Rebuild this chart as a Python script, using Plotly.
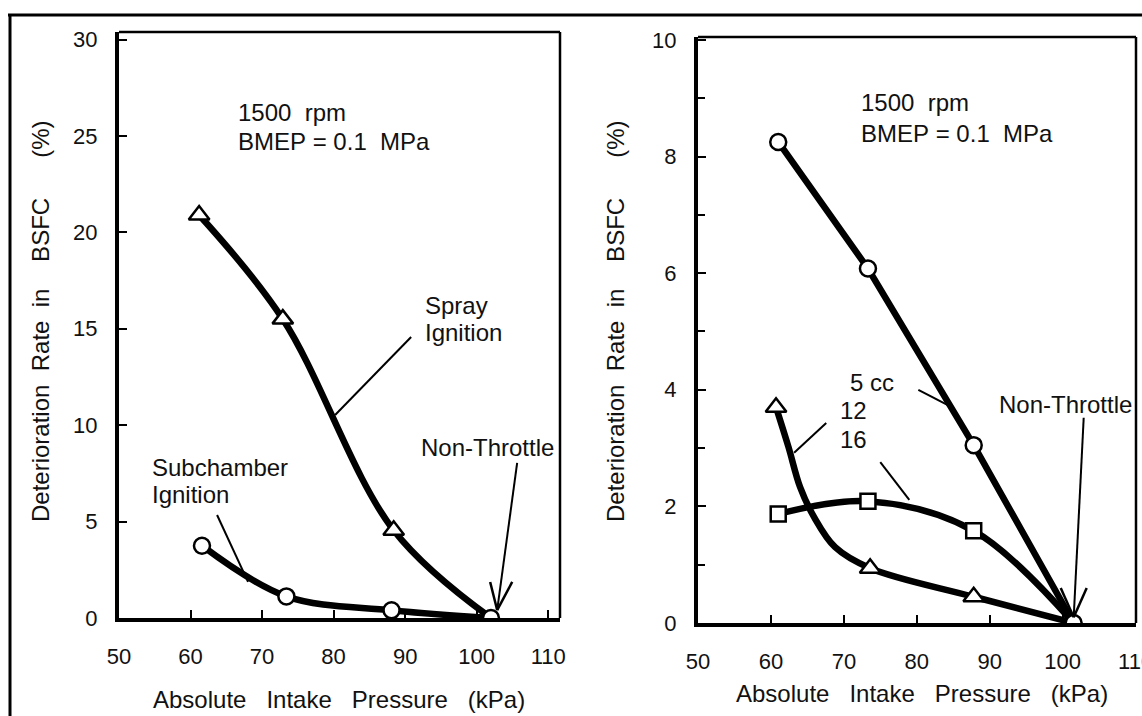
import plotly.graph_objects as go

# ---------------- data ----------------
# Left panel: spray ignition (triangles) vs subchamber ignition (circles)
spray_x = [61.2, 72.9, 88.4, 102.0]
spray_y = [20.9, 15.5, 4.55, 0.0]
sub_x = [61.6, 73.4, 88.1, 102.0]
sub_y = [3.75, 1.12, 0.40, 0.0]

# Right panel: subchamber volume 5 cc (circles), 12 (triangles), 16 (squares)
vol_x = [61.0, 73.3, 87.8, 101.5]
cc5_y = [8.25, 6.08, 3.05, 0.0]
cc12_y = [3.70, 0.94, 0.45, 0.0]
cc16_y = [1.87, 2.09, 1.58, 0.0]

# drawn curve of the "12" series
cc12_curve_x = [60.7, 62.4, 64.0, 65.9, 68.8, 73.6, 87.8, 101.5]
cc12_curve_y = [3.70, 3.02, 2.33, 1.82, 1.30, 0.94, 0.45, 0.0]

left_xticks = [50, 60, 70, 80, 90, 100, 110]
left_yticks = [0, 5, 10, 15, 20, 25, 30]
right_xticks = [50, 60, 70, 80, 90, 100, 110]
right_yticks = [0, 2, 4, 6, 8, 10]

W, H = 1142, 716
FONT = "Liberation Sans, Arial, sans-serif"
TXT = "#111111"
FS = 24

fig = go.Figure()

line_style = dict(color="black", width=6.5, shape="spline", smoothing=1.0)

def mk(symbol, size):
    return dict(symbol=symbol, size=size, color="white",
                line=dict(color="black", width=2.5))

# ---- left panel traces ----
fig.add_trace(go.Scatter(x=spray_x, y=spray_y, mode="lines", line=line_style,
                         xaxis="x", yaxis="y", hoverinfo="skip"))
fig.add_trace(go.Scatter(x=sub_x, y=sub_y, mode="lines", line=line_style,
                         xaxis="x", yaxis="y", hoverinfo="skip"))
fig.add_trace(go.Scatter(x=spray_x[:-1], y=spray_y[:-1], mode="markers",
                         marker=mk("triangle-up", 18), xaxis="x", yaxis="y"))
fig.add_trace(go.Scatter(x=sub_x, y=sub_y, mode="markers",
                         marker=mk("circle", 16), xaxis="x", yaxis="y"))

# ---- right panel traces ----
fig.add_trace(go.Scatter(x=vol_x, y=cc5_y, mode="lines",
                         line=dict(color="black", width=6.5),
                         xaxis="x2", yaxis="y2", hoverinfo="skip"))
fig.add_trace(go.Scatter(x=cc12_curve_x, y=cc12_curve_y, mode="lines",
                         line=line_style, xaxis="x2", yaxis="y2", hoverinfo="skip"))
fig.add_trace(go.Scatter(x=vol_x, y=cc16_y, mode="lines", line=line_style,
                         xaxis="x2", yaxis="y2", hoverinfo="skip"))
fig.add_trace(go.Scatter(x=cc12_curve_x[:1] + [cc12_curve_x[5], vol_x[2]],
                         y=cc12_y[:-1], mode="markers",
                         marker=mk("triangle-up", 18), xaxis="x2", yaxis="y2"))
fig.add_trace(go.Scatter(x=vol_x[:-1], y=cc16_y[:-1], mode="markers",
                         marker=mk("square", 15), xaxis="x2", yaxis="y2"))
fig.add_trace(go.Scatter(x=vol_x, y=cc5_y, mode="markers",
                         marker=mk("circle", 16), xaxis="x2", yaxis="y2"))

def px_x(p):
    return p / W

def px_y(p):
    return 1 - p / H

axis_common = dict(showgrid=False, zeroline=False, showline=True,
                   automargin=False, ticklabeloverflow="allow",
                   linecolor="black", linewidth=4, ticks="inside",
                   ticklen=8, tickwidth=2, tickcolor="black",
                   tickfont=dict(family=FONT, size=22, color=TXT))

fig.update_layout(
    width=W, height=H, margin=dict(l=0, r=0, t=0, b=0, autoexpand=False),
    paper_bgcolor="white", plot_bgcolor="white", showlegend=False,
    xaxis=dict(domain=[px_x(119), px_x(560)], range=[50, 111.65],
               tickvals=left_xticks, anchor="y", ticklabelstandoff=16,
               **axis_common),
    yaxis=dict(domain=[px_y(618), px_y(32)], range=[0, 30.39],
               tickvals=left_yticks, anchor="x", ticklabelstandoff=13,
               **axis_common),
    xaxis2=dict(domain=[px_x(698), px_x(1136)], range=[50, 110.05],
                tickvals=right_xticks, anchor="y2", ticklabelstandoff=16,
                **axis_common),
    yaxis2=dict(domain=[px_y(623), px_y(37)], range=[0, 10.05],
                tickvals=right_yticks, anchor="x2", ticklabelstandoff=13,
                minor=dict(dtick=1, ticks="inside", ticklen=7, tickwidth=2,
                           tickcolor="black"),
                **axis_common),
)

shapes = []
# thin top / right spines
for xr, yr in (("x domain", "y domain"), ("x2 domain", "y2 domain")):
    shapes.append(dict(type="line", xref=xr, yref=yr, x0=0, x1=1, y0=1, y1=1,
                       line=dict(color="black", width=2.5)))
    shapes.append(dict(type="line", xref=xr, yref=yr, x0=1, x1=1, y0=0, y1=1,
                       line=dict(color="black", width=2.5)))
# outer frame of the figure
shapes.append(dict(type="line", xref="paper", yref="paper",
                   x0=px_x(8), x1=1, y0=px_y(15), y1=px_y(15),
                   line=dict(color="black", width=3)))
shapes.append(dict(type="line", xref="paper", yref="paper",
                   x0=px_x(10), x1=px_x(10), y0=0, y1=px_y(15),
                   line=dict(color="black", width=3)))

# leader lines and arrows (data coordinates of each panel)
leaders = [
    ("x", "y", 90.84, 14.57, 80.21, 10.53, 2),
    ("x", "y", 63.71, 5.34, 68.04, 1.87, 2),
    ("x2", "y2", 80.21, 4.00, 84.19, 3.74, 2),
    ("x2", "y2", 67.58, 3.43, 63.18, 2.92, 2),
    ("x2", "y2", 74.99, 2.76, 78.97, 2.11, 2),
    # "Non-Throttle" arrow, left panel: shaft + open V head
    ("x", "y", 105.66, 8.04, 102.87, 0.41, 2),
    ("x", "y", 101.89, 1.87, 102.87, 0.41, 2.5),
    ("x", "y", 104.97, 1.87, 102.87, 0.41, 2.5),
    # "Non-Throttle" arrow, right panel
    ("x2", "y2", 102.88, 3.52, 101.51, 0.10, 2),
    ("x2", "y2", 99.73, 0.60, 101.51, 0.10, 2.5),
    ("x2", "y2", 103.29, 0.60, 101.51, 0.10, 2.5),
]
for xr, yr, x0, y0, x1, y1, w in leaders:
    shapes.append(dict(type="line", xref=xr, yref=yr, x0=x0, y0=y0, x1=x1, y1=y1,
                       line=dict(color="black", width=w)))
fig.update_layout(shapes=shapes)

ann = []

def label(text, xr, yr, x, y):
    ann.append(dict(text=text, xref=xr, yref=yr, x=x, y=y, xanchor="left",
                    yanchor="middle", showarrow=False,
                    font=dict(family=FONT, size=FS, color=TXT)))

S = "\u00a0"
# left panel labels
label("1500" + S + S + "rpm", "x", "y", 66.36, 26.19)
label("BMEP" + S + "=" + S + "0.1" + S + S + "MPa", "x", "y", 66.36, 24.69)
label("Spray", "x", "y", 92.52, 16.23)
label("Ignition", "x", "y", 92.52, 14.83)
label("Subchamber", "x", "y", 54.34, 7.83)
label("Ignition", "x", "y", 54.34, 6.38)
label("Non-Throttle", "x", "y", 91.96, 8.82)
# right panel labels
label("1500" + S + S + "rpm", "x2", "y2", 72.11, 8.92)
label("BMEP" + S + "=" + S + "0.1" + S + S + "MPa", "x2", "y2", 72.11, 8.40)
label("5" + S + "cc", "x2", "y2", 70.6, 4.13)
label("12", "x2", "y2", 69.22, 3.65)
label("16", "x2", "y2", 69.22, 3.14)
label("Non-Throttle", "x2", "y2", 91.05, 3.74)

# axis titles
xt = "Absolute" + S * 3 + "Intake" + S * 3 + "Pressure" + S * 3 + "(kPa)"
yt = ("Deterioration" + S * 2 + "Rate" + S * 2 + "in" + S * 4 + "BSFC" + S * 6 + "(%)")
for x, y in ((339, 699), (922, 693)):
    ann.append(dict(text=xt, xref="paper", yref="paper", x=px_x(x), y=px_y(y),
                    xanchor="center", yanchor="middle", showarrow=False,
                    font=dict(family=FONT, size=FS, color=TXT)))
for x, y in ((40, 322), (615, 322)):
    ann.append(dict(text=yt, xref="paper", yref="paper", x=px_x(x), y=px_y(y),
                    xanchor="center", yanchor="middle", showarrow=False,
                    textangle=-90, font=dict(family=FONT, size=FS, color=TXT)))

fig.update_layout(annotations=ann)

fig.write_html("out.html", config={"displayModeBar": False},
               post_script="document.body.style.margin='0';document.body.style.overflow='hidden';")
